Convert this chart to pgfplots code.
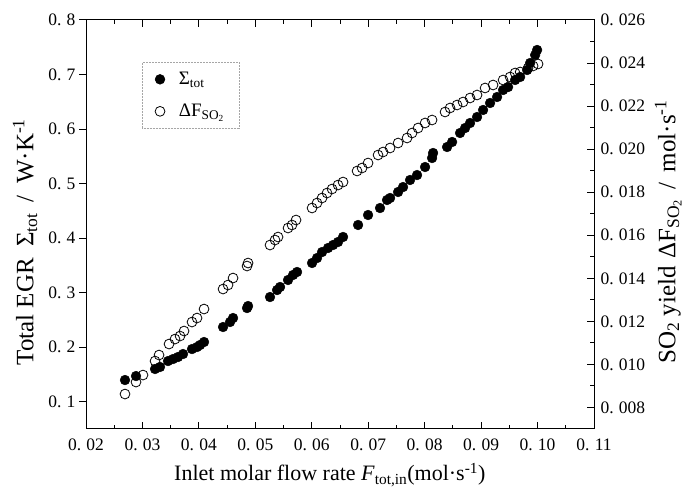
\documentclass[border=0pt]{standalone}
\usepackage{fontspec}
\setmainfont{Liberation Serif}
\usepackage{pgfplots}
\pgfplotsset{compat=1.18}

\newcommand{\tl}[1]{0.\hspace{0.3em}#1}
\newcommand{\tkfont}{\fontsize{17.5}{20}\selectfont}
\newcommand{\lbfont}{\fontsize{22}{26}\selectfont}
\newcommand{\ylbfont}{\fontsize{25}{28}\selectfont}

\pgfplotsset{
  common/.style={
    width=508pt, height=409pt, scale only axis,
    xmin=0.02, xmax=0.11,
    scaled ticks=false,
    axis line style={line width=1pt},
    every tick/.style={black, line width=1pt},
    major tick length=7pt, minor tick length=4pt,
    tick label style={font=\tkfont},
    label style={font=\lbfont},
  },
}

\begin{document}
\begin{tikzpicture}
% left y axis: major ticks outward, with labels
\begin{axis}[common,
    ymin=0.05, ymax=0.8,
    hide x axis, axis y line*=left,
    tick align=outside,
    ytick={0.1,0.2,0.3,0.4,0.5,0.6,0.7,0.8},
    yticklabels={\tl{1},\tl{2},\tl{3},\tl{4},\tl{5},\tl{6},\tl{7},\tl{8}},
    ylabel={Total EGR\hspace{0.45em}Σ\textsubscript{tot}\hspace{0.45em}/\hspace{0.45em}W·K\textsuperscript{-1}},
    ylabel style={at={(rel axis cs:-0.12,0.457)}, anchor=center, font=\ylbfont},
]
\addplot[draw=none, forget plot] coordinates {(0.05,0.5)};
\end{axis}

% main frame, x axis and Sigma_tot
\begin{axis}[common,
    ymin=0.05, ymax=0.8,
    tick align=inside,
    xtick={0.02,0.03,0.04,0.05,0.06,0.07,0.08,0.09,0.10,0.11},
    xticklabels={\tl{02},\tl{03},\tl{04},\tl{05},\tl{06},\tl{07},\tl{08},\tl{09},\tl{10},\tl{11}},
    xticklabel style={yshift=-6pt},
    minor xtick={0.025,0.035,0.045,0.055,0.065,0.075,0.085,0.095,0.105},
    xtick pos=both,
    ytick=\empty,
    minor ytick={0.15,0.25,0.35,0.45,0.55,0.65,0.75},
    ytick pos=left,
    xlabel={Inlet molar flow rate \textit{F}\textsubscript{tot,in}(mol·s\textsuperscript{-1})},
    xlabel style={at={(rel axis cs:0.48,-0.112)}, anchor=center},
    legend style={at={(rel axis cs:0.110,0.897)}, anchor=north west,
      font=\fontsize{19}{22}\selectfont, draw=gray!70, densely dotted,
      line width=0.5pt, inner xsep=13pt, inner ysep=8pt, row sep=14pt,
      column sep=12pt},
    legend cell align=left,
]
\coordinate (bl) at (rel axis cs:0,0);
\coordinate (tr) at (rel axis cs:1,1);
\addplot[only marks, mark=*, mark size=4.9pt, mark options={solid, fill=black, draw=black}]
coordinates {
(0.02691,0.1398) (0.02886,0.1471) (0.03223,0.1600) (0.03311,0.1637) (0.03453,0.1746)
(0.03542,0.1783) (0.03630,0.1820) (0.03719,0.1875) (0.03878,0.1966) (0.03967,0.2003)
(0.04020,0.2040) (0.04091,0.2095) (0.04428,0.2370) (0.04552,0.2462) (0.04605,0.2535)
(0.04853,0.2718) (0.04871,0.2755) (0.05260,0.2920) (0.05385,0.3048) (0.05438,0.3104)
(0.05579,0.3232) (0.05668,0.3324) (0.05739,0.3379) (0.06005,0.3544) (0.06093,0.3635)
(0.06182,0.3745) (0.06288,0.3819) (0.06377,0.3874) (0.06465,0.3929) (0.06554,0.4021)
(0.06820,0.4241) (0.06997,0.4424) (0.07209,0.4552) (0.07333,0.4699) (0.07387,0.4736)
(0.07529,0.4846) (0.07617,0.4937) (0.07741,0.5066) (0.07865,0.5157) (0.08007,0.5304)
(0.08131,0.5469) (0.08149,0.5561) (0.08397,0.5671) (0.08486,0.5763) (0.08627,0.5928)
(0.08716,0.6019) (0.08804,0.6111) (0.08928,0.6221) (0.09035,0.6350) (0.09159,0.6478)
(0.09283,0.6588) (0.09389,0.6716) (0.09478,0.6771) (0.09602,0.6900) (0.09691,0.6955)
(0.09815,0.7083) (0.09868,0.7211) (0.09957,0.7358) (0.09992,0.7450)
};
\addlegendentry{Σ\textsubscript{tot}}
\addlegendimage{only marks, mark=o, mark size=4.9pt, mark options={solid, fill=white, draw=black, line width=0.8pt}}
\addlegendentry{ΔF\textsubscript{SO\textsubscript{2}}}
\end{axis}

% right y axis and Delta F_SO2
\begin{axis}[common,
    ymin=0.007, ymax=0.026,
    hide x axis, axis y line*=right,
    tick align=inside,
    ytick={0.008,0.010,0.012,0.014,0.016,0.018,0.020,0.022,0.024,0.026},
    yticklabels={\tl{008},\tl{010},\tl{012},\tl{014},\tl{016},\tl{018},\tl{020},\tl{022},\tl{024},\tl{026}},
    yticklabel style={xshift=3pt},
    minor ytick={0.009,0.011,0.013,0.015,0.017,0.019,0.021,0.023,0.025},
    ylabel={SO\textsubscript{2} yield\hspace{0.3em}ΔF\textsubscript{SO\textsubscript{2}}\hspace{0.4em}/\hspace{0.4em}mol·s\textsuperscript{-1}},
    ylabel style={at={(rel axis cs:1.146,0.482)}, anchor=center, font=\ylbfont},
]
\addplot[only marks, mark=o, mark size=4.9pt, mark options={solid, fill=white, draw=black, line width=0.8pt}]
coordinates {
(0.02691,0.008624) (0.02886,0.009181) (0.03010,0.009507) (0.03223,0.010157) (0.03294,0.010436)
(0.03471,0.010947) (0.03577,0.011179) (0.03666,0.011319) (0.03737,0.011551) (0.03878,0.011969)
(0.03967,0.012155) (0.04091,0.012573) (0.04428,0.013502) (0.04516,0.013688) (0.04605,0.014013)
(0.04853,0.014571) (0.04871,0.014710) (0.05260,0.015546) (0.05349,0.015779) (0.05402,0.015918)
(0.05579,0.016336) (0.05650,0.016476) (0.05721,0.016708) (0.06005,0.017266) (0.06093,0.017498)
(0.06182,0.017730) (0.06270,0.017962) (0.06359,0.018148) (0.06465,0.018334) (0.06554,0.018473)
(0.06802,0.018985) (0.06891,0.019124) (0.06997,0.019356) (0.07174,0.019728) (0.07263,0.019867)
(0.07387,0.020053) (0.07529,0.020285) (0.07688,0.020518) (0.07777,0.020750) (0.07883,0.020982)
(0.08007,0.021215) (0.08131,0.021354) (0.08361,0.021726) (0.08450,0.021912) (0.08574,0.022051)
(0.08680,0.022190) (0.08804,0.022376) (0.08928,0.022516) (0.09070,0.022841) (0.09212,0.022980)
(0.09389,0.023212) (0.09513,0.023352) (0.09602,0.023538) (0.09691,0.023584) (0.09832,0.023770)
(0.09921,0.023863) (0.10009,0.023956)
};
\end{axis}
\pgfresetboundingbox
\path ([shift={(-86pt,-66pt)}]bl) rectangle ([shift={(91pt,20pt)}]tr);
\end{tikzpicture}
\end{document}
